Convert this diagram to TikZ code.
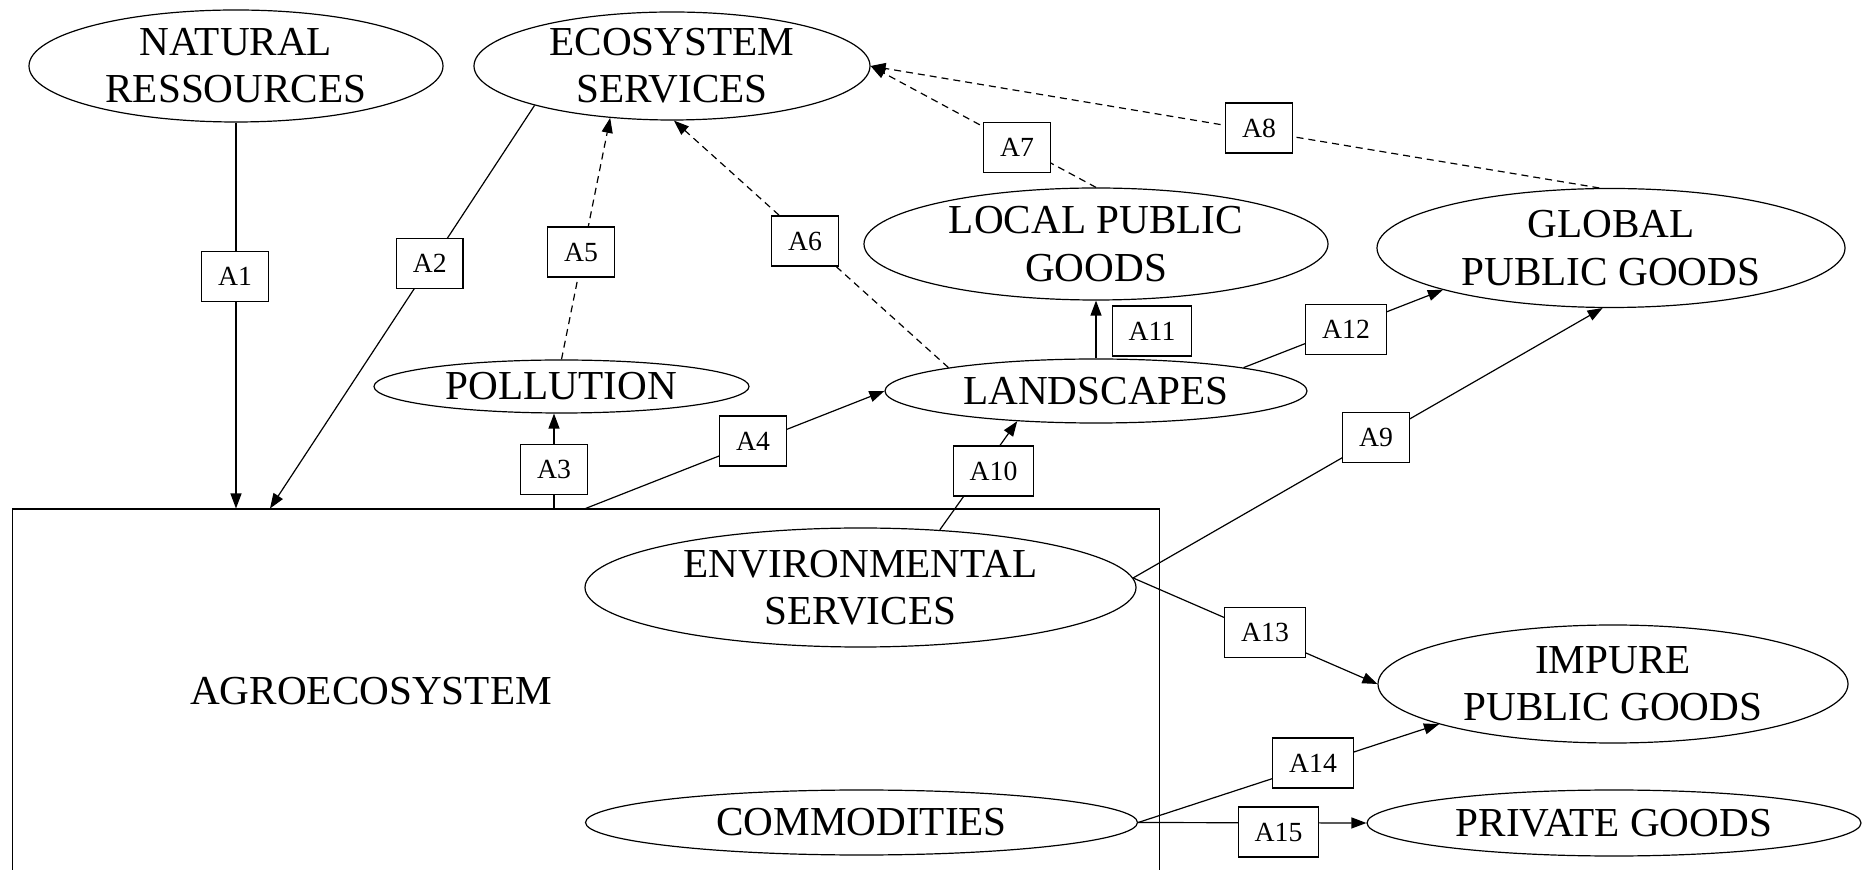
\documentclass[tikz,border=0pt]{standalone}
\usepackage{fontspec}
\setmainfont{Liberation Serif}
\usetikzlibrary{shapes.geometric,arrows.meta}
\tikzset{
  ell/.style={draw, ellipse, inner sep=0pt, line width=0.6pt},
  elltxt/.style={font=\fontsize{20.6}{23.6}\selectfont, align=center, inner sep=0pt},
  lbl/.style={draw, fill=white, font=\fontsize{13.85}{15}\selectfont, minimum height=25pt,
              inner xsep=8.2pt, inner ysep=0pt, line width=0.6pt},
  conn/.style={line width=0.6pt, -{Triangle[length=7.5pt,width=5.5pt]}},
  dsh/.style={dash pattern=on 3.5pt off 2.5pt},
}
\begin{document}
\begin{tikzpicture}[x=0.5pt,y=-0.5pt]
\useasboundingbox (0,0) rectangle (1863,870);
\clip (0,0) rectangle (1863,870);
% agroecosystem box
\node[draw, line width=0.6pt, anchor=north west, minimum width=573.75pt, minimum height=200pt, inner sep=0pt] (agro) at (11.5,508.5) {};
\node[elltxt] (agrotxt) at (371,691.5) {AGROECOSYSTEM};
% ellipses
\node[ell, minimum width=207pt, minimum height=56pt, label={[elltxt]center:{NATURAL\\RESSOURCES}}] (nat) at (236,66) {};
\node[ell, minimum width=198pt, minimum height=54pt, label={[elltxt]center:{ECOSYSTEM\\SERVICES}}] (eco) at (672,66) {};
\node[ell, minimum width=187.5pt, minimum height=26.5pt, label={[elltxt]center:{POLLUTION}}] (poll) at (561.5,386.5) {};
\node[ell, minimum width=232pt, minimum height=56pt, label={[elltxt]center:{LOCAL PUBLIC\\GOODS}}] (local) at (1096,244) {};
\node[ell, minimum width=234pt, minimum height=59.5pt, label={[elltxt]center:{GLOBAL\\PUBLIC GOODS}}] (global) at (1611,248) {};
\node[ell, minimum width=211pt, minimum height=32pt, label={[elltxt]center:{LANDSCAPES}}] (land) at (1096,391) {};
\node[ell, minimum width=275.5pt, minimum height=59.5pt, label={[elltxt]center:{ENVIRONMENTAL\\SERVICES}}] (env) at (860.5,587.5) {};
\node[ell, minimum width=276pt, minimum height=32.5pt, label={[elltxt]center:{COMMODITIES}}] (comm) at (861.5,822.5) {};
\node[ell, minimum width=235pt, minimum height=59pt, label={[elltxt]center:{IMPURE\\PUBLIC GOODS}}] (impure) at (1613,684) {};
\node[ell, minimum width=247pt, minimum height=33pt, label={[elltxt]center:{PRIVATE GOODS}}] (private) at (1614,823) {};
% free ends on the agroecosystem box
\coordinate (a2e) at (270,508.5);
\coordinate (a3s) at (554,508.5);
\coordinate (a4s) at (585.5,508.5);
% connectors
\draw[conn] (nat.south) -- (nat.south |- agro.north);
\draw[conn] (eco.196) -- (a2e);
\draw[conn] (a3s) -- (a3s |- poll.south);
\draw[conn] (a4s) -- (land.west);
\draw[conn,dsh] (poll.north) -- (eco.220);
\draw[conn,dsh] (land.171) -- (eco.272);
\draw[conn,dsh] (local.north) -- (eco.east);
\draw[conn,dsh] (global.101) -- (eco.east);
\draw[conn] (env.2) -- (global.262);
\draw[conn] (env.36) -- (land.201);
\draw[conn] (land.north) -- (local.south);
\draw[conn] (land.9) -- (global.194);
\draw[conn] (env.2) -- (impure.west);
\draw[conn] (comm.east) -- (impure.193);
\draw[conn] (comm.east) -- (private.west);
% labels
\node[lbl] (l1) at (235,276.7) {A1};
\node[lbl] (l2) at (429.7,263.7) {A2};
\node[lbl] (l3) at (554,469.5) {A3};
\node[lbl] (l4) at (753,441) {A4};
\node[lbl] (l5) at (581,252) {A5};
\node[lbl] (l6) at (805,241) {A6};
\node[lbl] (l7) at (1017,147.7) {A7};
\node[lbl] (l8) at (1259,128) {A8};
\node[lbl] (l9) at (1376,437.5) {A9};
\node[lbl] (l10) at (993.5,471) {A10};
\node[lbl] (l11) at (1152,331) {A11};
\node[lbl] (l12) at (1346,329.7) {A12};
\node[lbl] (l13) at (1265,632.7) {A13};
\node[lbl] (l14) at (1313,763) {A14};
\node[lbl] (l15) at (1278.5,832) {A15};
\end{tikzpicture}
\end{document}
